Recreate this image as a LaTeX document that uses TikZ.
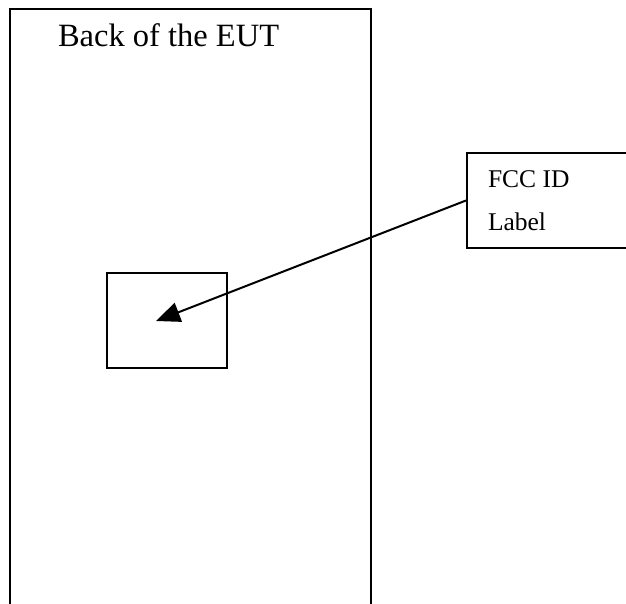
\documentclass[tikz,border=0pt]{standalone}
\usepackage{fontspec}
\setmainfont{Liberation Serif}
\usetikzlibrary{arrows.meta}
\begin{document}
\begin{tikzpicture}[x=1pt,y=-1pt,
  line width=2pt,
  lbl/.style={inner sep=0pt,anchor=base west}]
\useasboundingbox (0,0) rectangle (626,604);
\fill[white] (0,0) rectangle (626,604);
% back of the EUT (open at the bottom)
\coordinate (bl) at (10,612);
\coordinate (tl) at (10,9);
\coordinate (tr) at (371,9);
\coordinate (br) at (371,612);
\draw (bl) -- (tl) -- (tr) -- (br);
\node[lbl,font=\fontsize{32.5}{32.5}\selectfont] (title) at (57,47) {Back of the EUT};
% label location
\node[draw,inner sep=0pt,minimum width=120pt,minimum height=95pt] (spot) at (167,320.5) {};
% FCC ID box (extends past the right edge)
\node[draw,inner sep=0pt,minimum width=180pt,minimum height=95pt] (fcc) at (557,200.5) {};
\node[lbl,font=\fontsize{25.5}{25.5}\selectfont] (fcc1) at (487,187) {FCC ID};
\node[lbl,font=\fontsize{25.5}{25.5}\selectfont] (fcc2) at (487,230) {Label};
\coordinate (tip) at (156,321);
\draw[-{Triangle[length=24pt,width=20pt]}] (fcc.west) -- (tip);
\end{tikzpicture}
\end{document}
